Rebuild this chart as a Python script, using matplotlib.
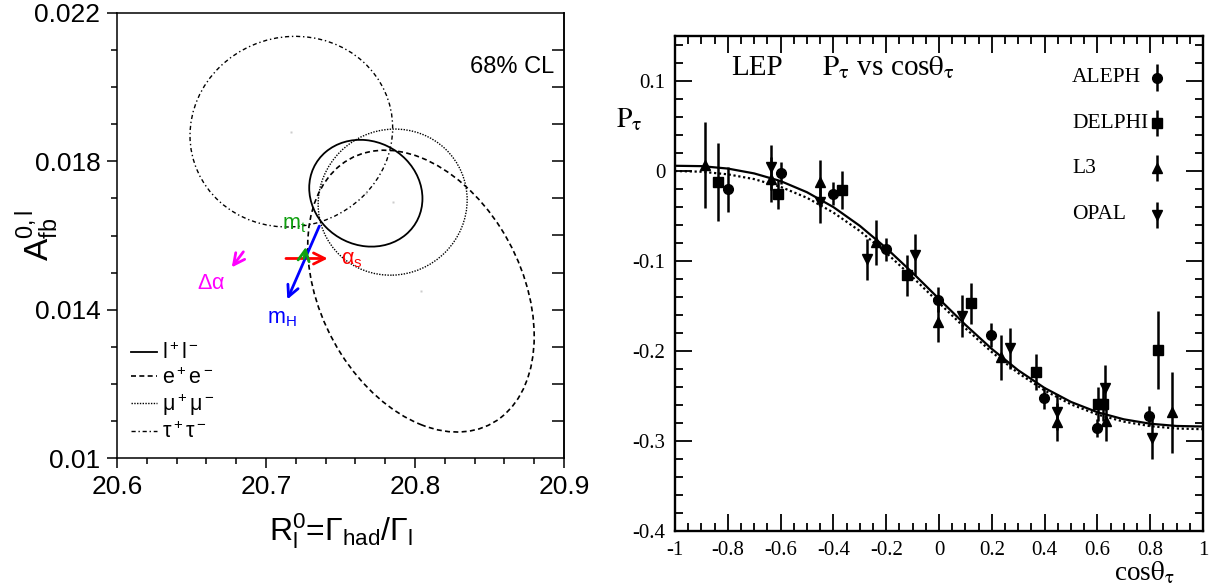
import numpy as np
import matplotlib.pyplot as plt
from matplotlib.patches import Circle
from matplotlib.transforms import Affine2D
from matplotlib.lines import Line2D
from matplotlib.ticker import MultipleLocator

plt.rcParams['mathtext.fontset'] = 'custom'
plt.rcParams['mathtext.rm'] = 'Liberation Sans'
plt.rcParams['mathtext.it'] = 'Liberation Sans:italic'
plt.rcParams['mathtext.bf'] = 'Liberation Sans:bold'
plt.rcParams['axes.unicode_minus'] = False

# ---- left panel: 68% CL contours in (R_l, A_fb) ----
ell_labels = [r'$\mathrm{l^+l^-}$', r'$\mathrm{e^+e^-}$', r'$\mathrm{\mu^+\mu^-}$', r'$\mathrm{\tau^+\tau^-}$']
ell_cx = [20.767, 20.804, 20.785, 20.717]
ell_cy = [0.01714, 0.01450, 0.01690, 0.01880]
ell_sx = [0.038, 0.076, 0.050, 0.068]
ell_sy = [0.00144, 0.00380, 0.00197, 0.00257]
ell_rho = [-0.10, -0.32, 0.03, 0.04]
ell_styles = ['-', (0, (3, 2)), (0, (1, 1)), (0, (3, 2, 1, 2))]
ell_widths = [1.3, 1.2, 1.0, 1.0]

# SM parameter arrows
arr_labels = [r'$\mathrm{\alpha_s}$', r'$\mathrm{m_H}$', r'$\mathrm{m_t}$', r'$\mathrm{\Delta\alpha}$']
arr_x0 = [20.7134, 20.7358, 20.7255, 20.6848]
arr_y0 = [0.01538, 0.016254, 0.01538, 0.01556]
arr_x1 = [20.7414, 20.7143, 20.7268, 20.6770]
arr_y1 = [0.01538, 0.014275, 0.015695, 0.015139]
arr_tx = [20.7577, 20.7107, 20.7189, 20.6634]
arr_ty = [0.01533, 0.01376, 0.01629, 0.01473]
arr_colors = ['#ff0000', '#0000ff', '#10a010', '#ff00ff']

left_xticks = [20.6, 20.7, 20.8, 20.9]
left_xticklabels = ['20.6', '20.7', '20.8', '20.9']
left_yticks = [0.010, 0.014, 0.018, 0.022]
left_yticklabels = ['0.01', '0.014', '0.018', '0.022']

# ---- right panel: P_tau vs cos(theta_tau) ----
aleph_x = [-0.800, -0.600, -0.403, -0.201, -0.003, 0.197, 0.398, 0.597, 0.797]
aleph_y = [-0.020, -0.002, -0.025, -0.087, -0.143, -0.182, -0.252, -0.285, -0.272]
aleph_e = [0.025, 0.012, 0.013, 0.013, 0.014, 0.013, 0.012, 0.010, 0.011]

delphi_x = [-0.836, -0.611, -0.366, -0.123, 0.120, 0.369, 0.604, 0.620, 0.831]
delphi_y = [-0.012, -0.026, -0.021, -0.116, -0.147, -0.223, -0.259, -0.259, -0.199]
delphi_e = [0.043, 0.016, 0.021, 0.023, 0.023, 0.020, 0.019, 0.019, 0.043]

l3_x = [-0.886, -0.637, -0.451, -0.239, -0.003, 0.236, 0.448, 0.633, 0.881]
l3_y = [0.007, -0.009, -0.012, -0.079, -0.168, -0.207, -0.279, -0.278, -0.268]
l3_e = [0.048, 0.025, 0.024, 0.025, 0.022, 0.025, 0.021, 0.022, 0.045]

opal_x = [-0.635, -0.451, -0.272, -0.091, 0.088, 0.270, 0.448, 0.629, 0.806]
opal_y = [0.004, -0.034, -0.098, -0.093, -0.161, -0.197, -0.268, -0.241, -0.297]
opal_e = [0.025, 0.024, 0.023, 0.023, 0.023, 0.023, 0.020, 0.025, 0.023]

experiments = ['ALEPH', 'DELPHI', 'L3', 'OPAL']

curve_x = [-1.0, -0.9, -0.8, -0.7, -0.6, -0.5, -0.4, -0.3, -0.2, -0.1, 0.0,
           0.1, 0.2, 0.3, 0.4, 0.5, 0.6, 0.7, 0.8, 0.9, 1.0]
fit_y = [0.0058, 0.0054, 0.0027, -0.0027, -0.0112, -0.0236, -0.0401, -0.0609, -0.0856, -0.1131, -0.1421,
         -0.1709, -0.1977, -0.2214, -0.2411, -0.2566, -0.2680, -0.2759, -0.2808, -0.2833, -0.2839]
univ_y = [0.0, -0.0008, -0.0037, -0.0090, -0.0176, -0.0298, -0.0462, -0.0666, -0.0909, -0.1180, -0.1465,
          -0.1748, -0.2012, -0.2245, -0.2439, -0.2593, -0.2706, -0.2785, -0.2835, -0.2861, -0.2869]

right_xticks = [-1, -0.8, -0.6, -0.4, -0.2, 0, 0.2, 0.4, 0.6, 0.8, 1]
right_xticklabels = ['-1', '-0.8', '-0.6', '-0.4', '-0.2', '0', '0.2', '0.4', '0.6', '0.8', '1']
right_yticks = [-0.4, -0.3, -0.2, -0.1, 0, 0.1]
right_yticklabels = ['-0.4', '-0.3', '-0.2', '-0.1', '0', '0.1']

fig = plt.figure(figsize=(12.12, 5.87), dpi=100)

# ================= left =================
ax = fig.add_axes([117/1212, 1-458/587, 447/1212, 445/587])
ax.set_xlim(20.6, 20.9)
ax.set_ylim(0.010, 0.022)

handles = []
for cx, cy, sx, sy, r, ls, lw in zip(ell_cx, ell_cy, ell_sx, ell_sy, ell_rho, ell_styles, ell_widths):
    m = np.array([[sx, 0, cx], [sy*r, sy*np.sqrt(1-r*r), cy], [0, 0, 1]])
    c = Circle((0, 0), 1, transform=Affine2D(m) + ax.transData, fill=False,
               ec='black', lw=lw, linestyle=ls)
    ax.add_patch(c)
    handles.append(Line2D([], [], color='black', lw=lw, linestyle=ls))
ax.plot(ell_cx, ell_cy, 's', ms=1.5, color='#cccccc', mec='none')

for i in range(len(arr_labels)):
    ax.annotate('', xy=(arr_x1[i], arr_y1[i]), xytext=(arr_x0[i], arr_y0[i]),
                arrowprops=dict(arrowstyle='->', color=arr_colors[i], lw=2,
                                shrinkA=0, shrinkB=0, mutation_scale=20))
    ax.text(arr_tx[i], arr_ty[i], arr_labels[i], color=arr_colors[i], fontsize=15.5,
            ha='center', va='center')

ax.text(0.978, 0.878, '68% CL', transform=ax.transAxes, ha='right', va='center',
        fontsize=17, family='Liberation Sans')

leg = ax.legend(handles, ell_labels, loc='lower left', bbox_to_anchor=(0.031, 0.035),
                frameon=False, fontsize=15.5, handlelength=1.2, handletextpad=0.25,
                labelspacing=0.15, borderpad=0, borderaxespad=0)

ax.set_xticks(left_xticks)
ax.set_xticklabels(left_xticklabels)
ax.set_yticks(left_yticks)
ax.set_yticklabels(left_yticklabels)
ax.xaxis.set_minor_locator(MultipleLocator(0.02))
ax.yaxis.set_minor_locator(MultipleLocator(0.001))
ax.tick_params(which='both', direction='out', top=False, right=False, width=1.1)
ax.tick_params(which='major', length=7, labelsize=19, pad=5)
ax.tick_params(which='minor', length=4)
for lab in ax.get_xticklabels() + ax.get_yticklabels():
    lab.set_family('Liberation Sans')
sec = ax.secondary_yaxis('right')
sec.set_yticks(np.arange(0.011, 0.0215, 0.001))
sec.tick_params(direction='in', length=9, width=1.1, labelright=False)
sec.spines['right'].set_linewidth(1.1)
for s in ax.spines.values():
    s.set_linewidth(1.1)

ax.set_xlabel(r'$\mathrm{R^0_l}$=$\mathrm{\Gamma_{had}/\Gamma_{l}}$', fontsize=23,
              family='Liberation Sans')
ax.xaxis.set_label_coords(0.5, -0.12)
ax.set_ylabel(r'$\mathrm{A^{0,l}_{fb}}$', fontsize=24, family='Liberation Sans')
ax.yaxis.set_label_coords(-0.125, 0.5)

# ================= right =================
ax2 = fig.add_axes([675/1212, 1-531/587, 528/1212, 495/587])
ax2.set_xlim(-1, 1)
ax2.set_ylim(-0.4, 0.15)

ax2.plot(curve_x, univ_y, color='black', lw=1.6, linestyle=(0, (1, 1.2)))
ax2.plot(curve_x, fit_y, color='black', lw=1.6)

ekw = dict(color='black', elinewidth=1.8, capsize=0, linestyle='none')
markers = ['o', 's', '^', 'v']
sizes = [7, 6.5, 7, 7]
series = [(aleph_x, aleph_y, aleph_e), (delphi_x, delphi_y, delphi_e),
          (l3_x, l3_y, l3_e), (opal_x, opal_y, opal_e)]
for (xs, ys, es), mk, ms in zip(series, markers, sizes):
    ax2.errorbar(xs, ys, yerr=es, fmt=mk, ms=ms, **ekw)

# legend: names left-aligned, symbols with bars in one column
key_rows = [0.9158, 0.8242, 0.7333, 0.6384]
for name, mk, ms, yk in zip(experiments, markers, sizes, key_rows):
    ax2.text(0.752, yk, name, transform=ax2.transAxes, fontsize=15.5,
             family='Liberation Serif', va='center', ha='left')
    ax2.errorbar([0.913], [yk], yerr=[0.027], fmt=mk, ms=ms, transform=ax2.transAxes,
                 clip_on=False, **ekw)
ax2.set_xlim(-1, 1)
ax2.set_ylim(-0.4, 0.15)

ax2.set_xticks(right_xticks)
ax2.set_xticklabels(right_xticklabels)
ax2.set_yticks(right_yticks)
ax2.set_yticklabels(right_yticklabels)
ax2.xaxis.set_minor_locator(MultipleLocator(0.05))
ax2.yaxis.set_minor_locator(MultipleLocator(0.02))
ax2.tick_params(which='both', direction='in', top=True, right=True, width=1.3)
ax2.tick_params(which='major', length=12, labelsize=15, pad=7)
ax2.tick_params(which='minor', length=6)
for lab in ax2.get_xticklabels() + ax2.get_yticklabels():
    lab.set_family('Liberation Serif')
for s in ax2.spines.values():
    s.set_linewidth(1.7)

ax2.text(0.106, 0.921, 'LEP', transform=ax2.transAxes, fontsize=21,
         family='Liberation Serif', va='baseline')
ax2.text(0.278, 0.921, r'$\mathrm{P_\tau}$ vs cos$\mathrm{\theta_\tau}$', transform=ax2.transAxes,
         fontsize=21, family='Liberation Serif', math_fontfamily='stix', va='baseline')
ax2.text(-0.112, 0.816, r'$\mathrm{P_\tau}$', transform=ax2.transAxes, fontsize=20,
         family='Liberation Serif', math_fontfamily='stix', va='baseline')
ax2.text(0.945, -0.099, r'cos$\mathrm{\theta_\tau}$', transform=ax2.transAxes, fontsize=19.5,
         family='Liberation Serif', math_fontfamily='stix', va='baseline', ha='right')

fig.savefig('out.png', dpi=100)
